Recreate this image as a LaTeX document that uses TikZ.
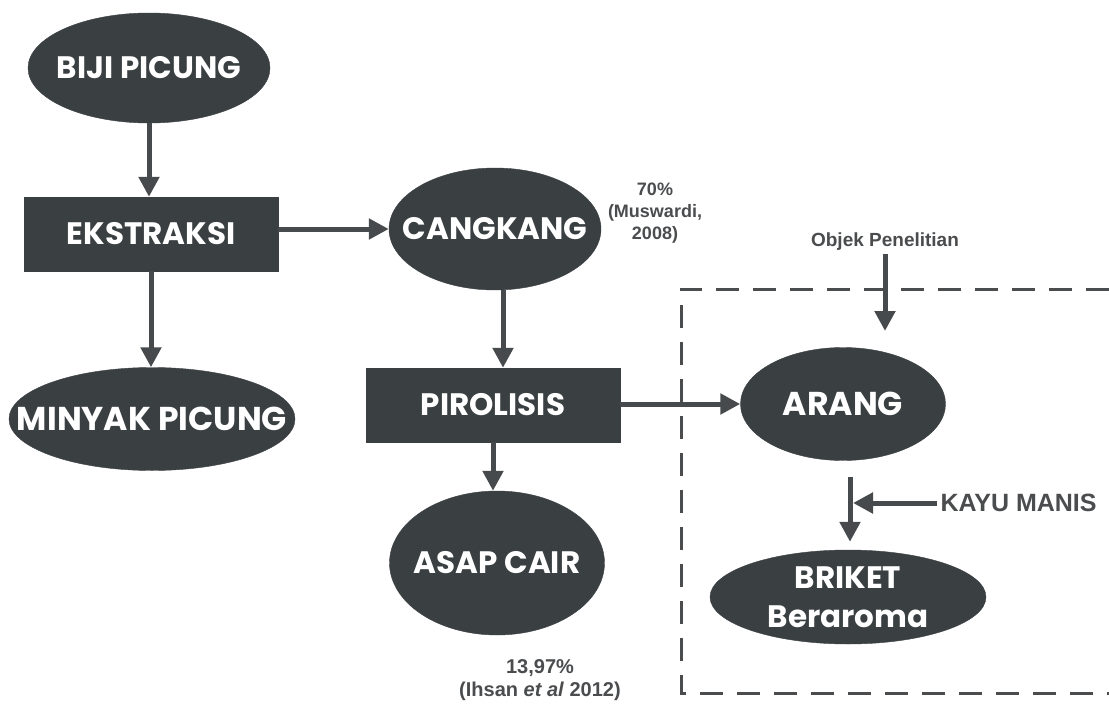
\documentclass[tikz,border=0pt]{standalone}
\usepackage{fontspec}
\setmainfont{Liberation Sans}
\newfontfamily\labfont{Poppins}
\usetikzlibrary{shapes.geometric,arrows.meta}
\definecolor{darkfill}{HTML}{3A3F42}
\definecolor{arrowc}{HTML}{474A4C}
\definecolor{textg}{HTML}{4A4C4E}
\tikzset{
  oval/.style={ellipse, fill=darkfill, draw=darkfill, inner sep=0pt},
  ovaltext/.style={text=white, align=center, inner sep=0pt,
    font=\labfont\bfseries\fontsize{31}{39}\selectfont},
  boxnode/.style={rectangle, fill=darkfill, draw=darkfill, inner sep=0pt, text=white,
    minimum width=254pt, minimum height=74pt, font=\labfont\bfseries\fontsize{31}{34}\selectfont},
  arr/.style={draw=arrowc, line width=5pt, -{Triangle[length=20pt,width=20pt]}},
  note/.style={text=textg, align=center, font=\bfseries\fontsize{18}{22}\selectfont}
}
\begin{document}
\begin{tikzpicture}[x=1pt,y=-1pt]
\useasboundingbox (0,0) rectangle (1109,704);
\fill[white] (0,0) rectangle (1109,704);
% dashed research box
\draw[textg, line width=3pt, dash pattern=on 23pt off 14pt] (1109,289) -- (681,289) -- (681,693) -- (1109,693);
% nodes
\node[oval, minimum width=242pt, minimum height=110pt, label={[ovaltext]center:BIJI PICUNG}] (biji) at (149,68) {};
\node[boxnode] (eks) at (151,234) {EKSTRAKSI};
\node[oval, minimum width=286pt, minimum height=103pt, label={[ovaltext, font=\labfont\bfseries\fontsize{33}{39}\selectfont]center:MINYAK PICUNG}] (minyak) at (152,419) {};
\node[oval, minimum width=212pt, minimum height=122pt, label={[ovaltext]center:CANGKANG}] (cang) at (495,229) {};
\node[boxnode] (piro) at (493,405) {PIROLISIS};
\node[oval, minimum width=215pt, minimum height=144pt, label={[ovaltext]center:ASAP CAIR}] (asap) at (497,563) {};
\node[oval, minimum width=205pt, minimum height=113pt, label={[ovaltext, font=\labfont\bfseries\fontsize{33}{39}\selectfont]center:ARANG}] (arang) at (843,404) {};
\node[oval, minimum width=276pt, minimum height=94pt, label={[ovaltext]center:BRIKET\\Beraroma}] (briket) at (848,597) {};
% notes
\node[note] (n70) at (655,213) {70\%\\(Muswardi,\\2008)};
\node[note, font=\bfseries\fontsize{20}{23}\selectfont] (n13) at (540,680) {13,97\%\\(Ihsan \textit{et al} 2012)};
\node[note, font=\bfseries\fontsize{19}{22}\selectfont] (obj) at (885,242) {Objek Penelitian};
\node[note, font=\bfseries\fontsize{25}{28}\selectfont, anchor=west] (kayu) at (937,503) {KAYU MANIS};
\coordinate (objend) at (885,331);
\coordinate (arfrom) at (850,477);
\coordinate (join) at (853,503);
% connectors
\draw[arr] (biji.south) -- (biji.south |- eks.north);
\draw[arr] (eks.east |- cang.west) -- (cang.west);
\draw[arr] (eks.south) -- (eks.south |- minyak.north);
\draw[arr] ([xshift=8pt]cang.south) -- ([xshift=8pt]cang.south |- piro.north);
\draw[arr] (piro.east |- arang.west) -- (arang.west);
\draw[arr] (piro.south) -- (piro.south |- asap.north);
\draw[arr] (obj.south) -- (objend);
\draw[arr, shorten >=8pt] (arfrom) -- (arfrom |- briket.north);
\draw[arr] (kayu.west) -- (join);
\end{tikzpicture}
\end{document}
